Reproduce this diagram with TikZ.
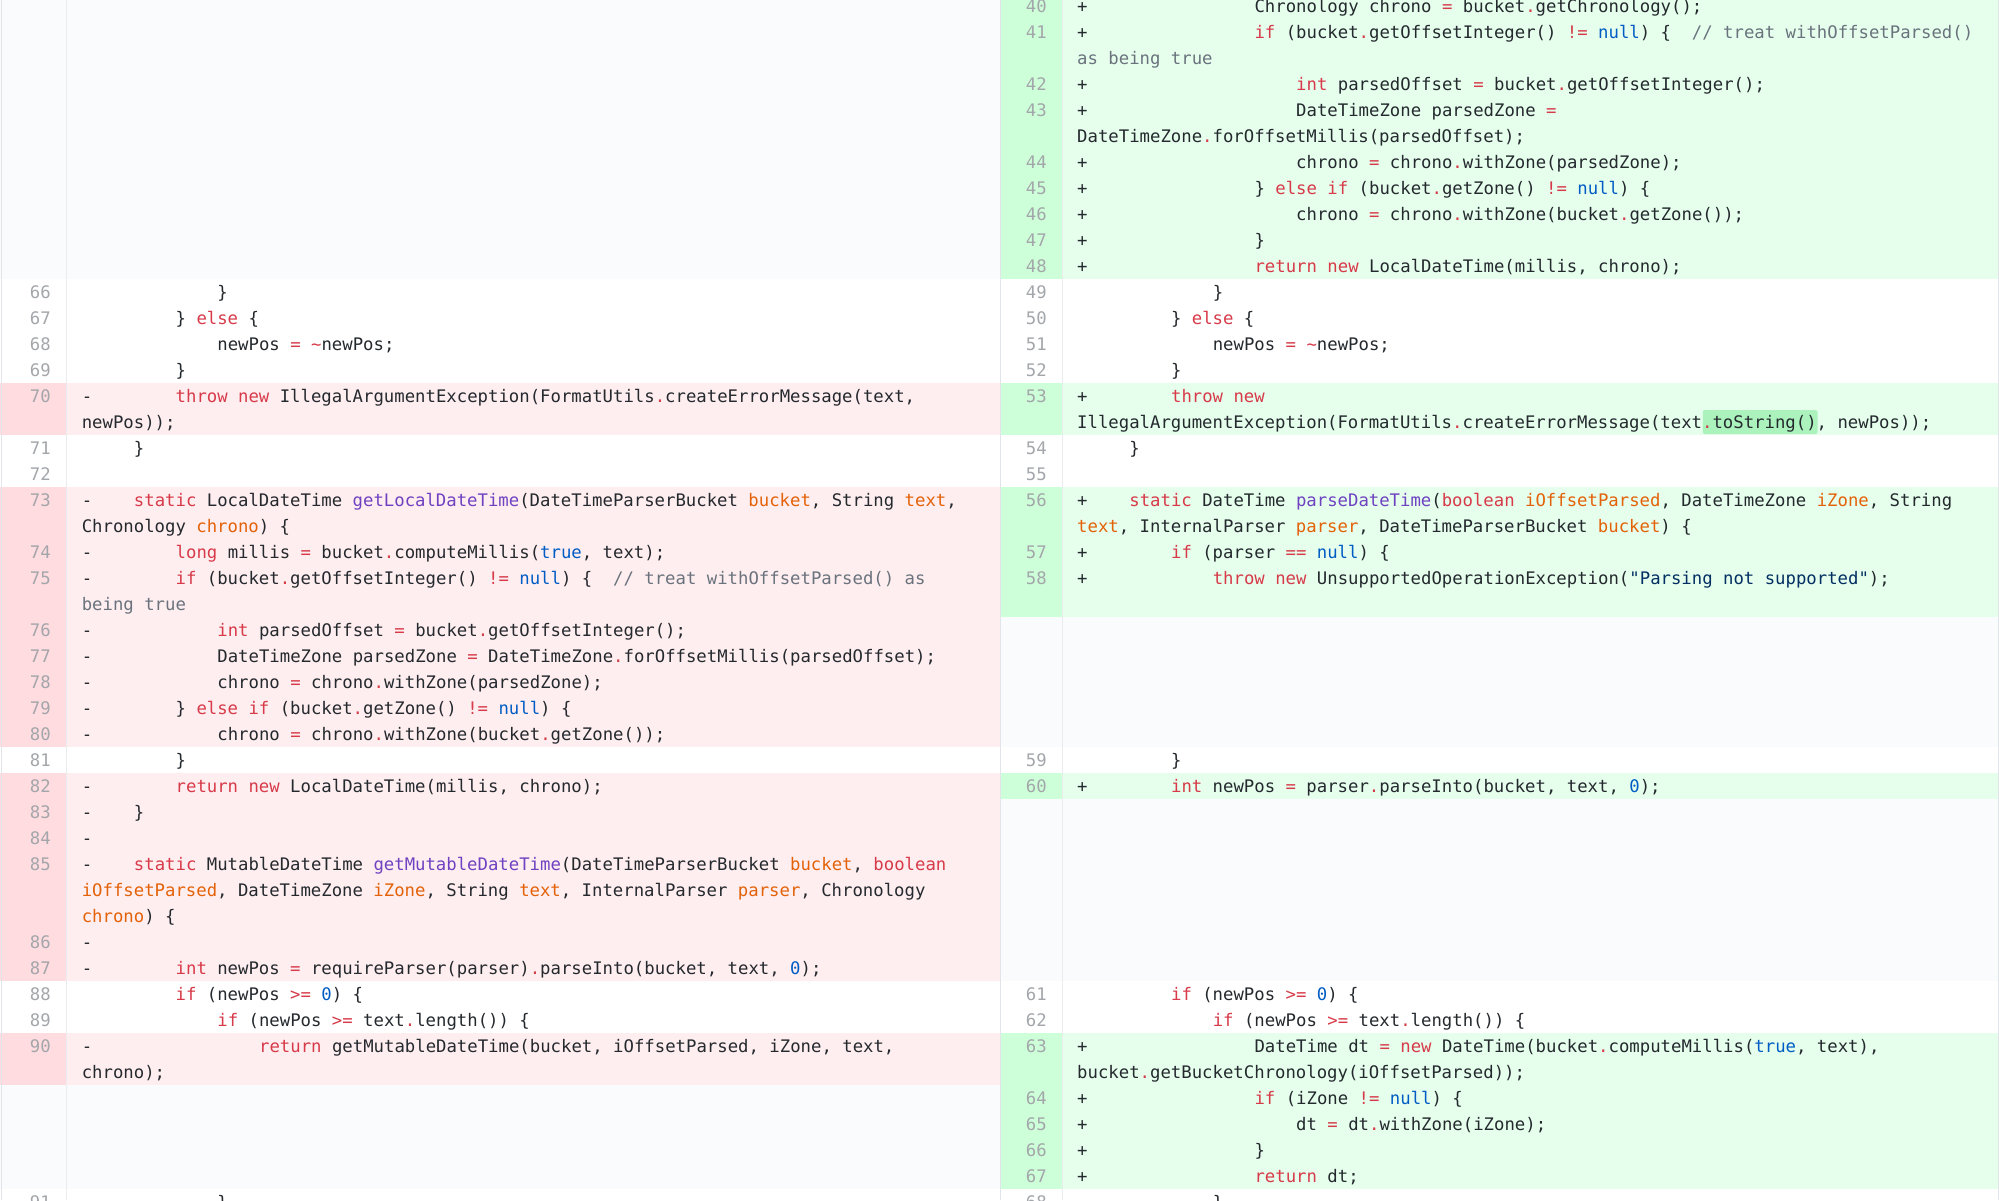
\documentclass[tikz,border=0pt]{standalone}
\usepackage{fontspec}
\newfontfamily\cf{DejaVu Sans Mono}
\definecolor{delbg}{HTML}{FFEEF0}
\definecolor{delgut}{HTML}{FFDCE0}
\definecolor{addbg}{HTML}{E6FFED}
\definecolor{addgut}{HTML}{CDFFD8}
\definecolor{emptybg}{HTML}{FAFBFC}
\definecolor{hlword}{HTML}{ACF2BD}
\definecolor{txt}{HTML}{24292E}
\definecolor{numc}{HTML}{A3A6AA}
\definecolor{kw}{HTML}{D73A49}
\definecolor{fn}{HTML}{6F42C1}
\definecolor{cst}{HTML}{005CC5}
\definecolor{par}{HTML}{E36209}
\definecolor{strc}{HTML}{032F62}
\definecolor{cmt}{HTML}{6A737D}
\definecolor{bord}{HTML}{E1E4E8}
\newcommand\K[1]{\textcolor{kw}{#1}}
\newcommand\F[1]{\textcolor{fn}{#1}}
\newcommand\C[1]{\textcolor{cst}{#1}}
\newcommand\V[1]{\textcolor{par}{#1}}
\newcommand\Sx[1]{\textcolor{strc}{#1}}
\newcommand\M[1]{\textcolor{cmt}{#1}}
\newcommand\D{\K{.}}
\newcommand\E{\K{=}}
\newcommand\codeL[3]{\node[code] (l#1) at ({81.6+#2*10.43},{26*#1+12}) {#3};}
\newcommand\codeR[3]{\node[code] (r#1) at ({1077+#2*10.43},{26*#1+12}) {#3};}
\newcommand\sgL[2]{\node[code] (sl#1) at (81.6,{26*#1+12}) {#2};}
\newcommand\sgR[2]{\node[code] (sr#1) at (1077,{26*#1+12}) {#2};}
\newcommand\numL[2]{\node[num] (nl#1) at (51,{26*#1+12}) {#2};}
\newcommand\numR[2]{\node[num] (nr#1) at (1047,{26*#1+12}) {#2};}
\newcommand\BG[5]{\fill[#5] (#1,{26*#3-7}) rectangle (#2,{26*(#4+1)-7});}
\newcommand\BGL[4]{\BG{0}{66}{#1}{#2}{#3}\BG{66}{1000}{#1}{#2}{#4}}
\newcommand\BGR[4]{\BG{1000}{1062}{#1}{#2}{#3}\BG{1062}{1999}{#1}{#2}{#4}}
\begin{document}
\begin{tikzpicture}[x=1pt,y=-1pt,
  code/.style={anchor=base west,inner sep=0pt,font=\cf\fontsize{17.3}{20}\selectfont,text=txt},
  num/.style={anchor=base east,inner sep=0pt,font=\cf\fontsize{17.3}{20}\selectfont,text=numc}]
\useasboundingbox (0,0) rectangle (1999,1200);
\begin{scope}
\clip (0,0) rectangle (1999,1200);
\fill[white] (0,0) rectangle (1999,1200);
% left backgrounds
\BGL{0}{10}{emptybg}{emptybg}
\BGL{11}{14}{white}{white}
\BGL{15}{16}{delgut}{delbg}
\BGL{17}{18}{white}{white}
\BGL{19}{28}{delgut}{delbg}
\BGL{29}{29}{white}{white}
\BGL{30}{37}{delgut}{delbg}
\BGL{38}{39}{white}{white}
\BGL{40}{41}{delgut}{delbg}
\BGL{42}{45}{emptybg}{emptybg}
\BGL{46}{46}{white}{white}
% right backgrounds
\BGR{0}{10}{addgut}{addbg}
\BGR{11}{14}{white}{white}
\BGR{15}{16}{addgut}{addbg}
\BGR{17}{18}{white}{white}
\BGR{19}{23}{addgut}{addbg}
\BGR{24}{28}{emptybg}{emptybg}
\BGR{29}{29}{white}{white}
\BGR{30}{30}{addgut}{addbg}
\BGR{31}{37}{emptybg}{emptybg}
\BGR{38}{39}{white}{white}
\BGR{40}{45}{addgut}{addbg}
\BGR{46}{46}{white}{white}
% borders
\draw[bord,line width=1pt] (1000,0) -- (1000,1200);
\draw[bord!70,line width=0.8pt] (66,0) -- (66,1200) (1062,0) -- (1062,1200);
\draw[bord,line width=1pt] (1.5,0) -- (1.5,1200) (1998,0) -- (1998,1200);
% highlight word
\fill[hlword,rounded corners=2pt] ({1077+60*10.43},{26*16-6}) rectangle ({1077+71*10.43},{26*16+18});

% ---------- left ----------
\numL{11}{66}\codeL{11}{13}{\}}
\numL{12}{67}\codeL{12}{9}{\} \K{else} \{}
\numL{13}{68}\codeL{13}{13}{newPos \E{} \K{\textasciitilde}newPos;}
\numL{14}{69}\codeL{14}{9}{\}}
\numL{15}{70}\sgL{15}{-}\codeL{15}{9}{\K{throw} \K{new} IllegalArgumentException(FormatUtils\D createErrorMessage(text,}
\codeL{16}{0}{newPos));}
\numL{17}{71}\codeL{17}{5}{\}}
\numL{18}{72}
\numL{19}{73}\sgL{19}{-}\codeL{19}{5}{\K{static} LocalDateTime \F{getLocalDateTime}(DateTimeParserBucket \V{bucket}, String \V{text},}
\codeL{20}{0}{Chronology \V{chrono}) \{}
\numL{21}{74}\sgL{21}{-}\codeL{21}{9}{\K{long} millis \E{} bucket\D computeMillis(\C{true}, text);}
\numL{22}{75}\sgL{22}{-}\codeL{22}{9}{\K{if} (bucket\D getOffsetInteger() \K{!=} \C{null}) \{\ \ \M{// treat withOffsetParsed() as}}
\codeL{23}{0}{\M{being true}}
\numL{24}{76}\sgL{24}{-}\codeL{24}{13}{\K{int} parsedOffset \E{} bucket\D getOffsetInteger();}
\numL{25}{77}\sgL{25}{-}\codeL{25}{13}{DateTimeZone parsedZone \E{} DateTimeZone\D forOffsetMillis(parsedOffset);}
\numL{26}{78}\sgL{26}{-}\codeL{26}{13}{chrono \E{} chrono\D withZone(parsedZone);}
\numL{27}{79}\sgL{27}{-}\codeL{27}{9}{\} \K{else} \K{if} (bucket\D getZone() \K{!=} \C{null}) \{}
\numL{28}{80}\sgL{28}{-}\codeL{28}{13}{chrono \E{} chrono\D withZone(bucket\D getZone());}
\numL{29}{81}\codeL{29}{9}{\}}
\numL{30}{82}\sgL{30}{-}\codeL{30}{9}{\K{return} \K{new} LocalDateTime(millis, chrono);}
\numL{31}{83}\sgL{31}{-}\codeL{31}{5}{\}}
\numL{32}{84}\sgL{32}{-}
\numL{33}{85}\sgL{33}{-}\codeL{33}{5}{\K{static} MutableDateTime \F{getMutableDateTime}(DateTimeParserBucket \V{bucket}, \K{boolean}}
\codeL{34}{0}{\V{iOffsetParsed}, DateTimeZone \V{iZone}, String \V{text}, InternalParser \V{parser}, Chronology}
\codeL{35}{0}{\V{chrono}) \{}
\numL{36}{86}\sgL{36}{-}
\numL{37}{87}\sgL{37}{-}\codeL{37}{9}{\K{int} newPos \E{} requireParser(parser)\D parseInto(bucket, text, \C{0});}
\numL{38}{88}\codeL{38}{9}{\K{if} (newPos \K{>=} \C{0}) \{}
\numL{39}{89}\codeL{39}{13}{\K{if} (newPos \K{>=} text\D length()) \{}
\numL{40}{90}\sgL{40}{-}\codeL{40}{17}{\K{return} getMutableDateTime(bucket, iOffsetParsed, iZone, text,}
\codeL{41}{0}{chrono);}
\numL{46}{91}\codeL{46}{13}{\}}

% ---------- right ----------
\numR{0}{40}\sgR{0}{+}\codeR{0}{17}{Chronology chrono \E{} bucket\D getChronology();}
\numR{1}{41}\sgR{1}{+}\codeR{1}{17}{\K{if} (bucket\D getOffsetInteger() \K{!=} \C{null}) \{\ \ \M{// treat withOffsetParsed()}}
\codeR{2}{0}{\M{as being true}}
\numR{3}{42}\sgR{3}{+}\codeR{3}{21}{\K{int} parsedOffset \E{} bucket\D getOffsetInteger();}
\numR{4}{43}\sgR{4}{+}\codeR{4}{21}{DateTimeZone parsedZone \E{}}
\codeR{5}{0}{DateTimeZone\D forOffsetMillis(parsedOffset);}
\numR{6}{44}\sgR{6}{+}\codeR{6}{21}{chrono \E{} chrono\D withZone(parsedZone);}
\numR{7}{45}\sgR{7}{+}\codeR{7}{17}{\} \K{else} \K{if} (bucket\D getZone() \K{!=} \C{null}) \{}
\numR{8}{46}\sgR{8}{+}\codeR{8}{21}{chrono \E{} chrono\D withZone(bucket\D getZone());}
\numR{9}{47}\sgR{9}{+}\codeR{9}{17}{\}}
\numR{10}{48}\sgR{10}{+}\codeR{10}{17}{\K{return} \K{new} LocalDateTime(millis, chrono);}
\numR{11}{49}\codeR{11}{13}{\}}
\numR{12}{50}\codeR{12}{9}{\} \K{else} \{}
\numR{13}{51}\codeR{13}{13}{newPos \E{} \K{\textasciitilde}newPos;}
\numR{14}{52}\codeR{14}{9}{\}}
\numR{15}{53}\sgR{15}{+}\codeR{15}{9}{\K{throw} \K{new}}
\codeR{16}{0}{IllegalArgumentException(FormatUtils\D createErrorMessage(text\D toString(), newPos));}
\numR{17}{54}\codeR{17}{5}{\}}
\numR{18}{55}
\numR{19}{56}\sgR{19}{+}\codeR{19}{5}{\K{static} DateTime \F{parseDateTime}(\K{boolean} \V{iOffsetParsed}, DateTimeZone \V{iZone}, String}
\codeR{20}{0}{\V{text}, InternalParser \V{parser}, DateTimeParserBucket \V{bucket}) \{}
\numR{21}{57}\sgR{21}{+}\codeR{21}{9}{\K{if} (parser \K{==} \C{null}) \{}
\numR{22}{58}\sgR{22}{+}\codeR{22}{13}{\K{throw} \K{new} UnsupportedOperationException(\Sx{"Parsing not supported"});}
\numR{29}{59}\codeR{29}{9}{\}}
\numR{30}{60}\sgR{30}{+}\codeR{30}{9}{\K{int} newPos \E{} parser\D parseInto(bucket, text, \C{0});}
\numR{38}{61}\codeR{38}{9}{\K{if} (newPos \K{>=} \C{0}) \{}
\numR{39}{62}\codeR{39}{13}{\K{if} (newPos \K{>=} text\D length()) \{}
\numR{40}{63}\sgR{40}{+}\codeR{40}{17}{DateTime dt \E{} \K{new} DateTime(bucket\D computeMillis(\C{true}, text),}
\codeR{41}{0}{bucket\D getBucketChronology(iOffsetParsed));}
\numR{42}{64}\sgR{42}{+}\codeR{42}{17}{\K{if} (iZone \K{!=} \C{null}) \{}
\numR{43}{65}\sgR{43}{+}\codeR{43}{21}{dt \E{} dt\D withZone(iZone);}
\numR{44}{66}\sgR{44}{+}\codeR{44}{17}{\}}
\numR{45}{67}\sgR{45}{+}\codeR{45}{17}{\K{return} dt;}
\numR{46}{68}\codeR{46}{13}{\}}
\end{scope}
\end{tikzpicture}
\end{document}
